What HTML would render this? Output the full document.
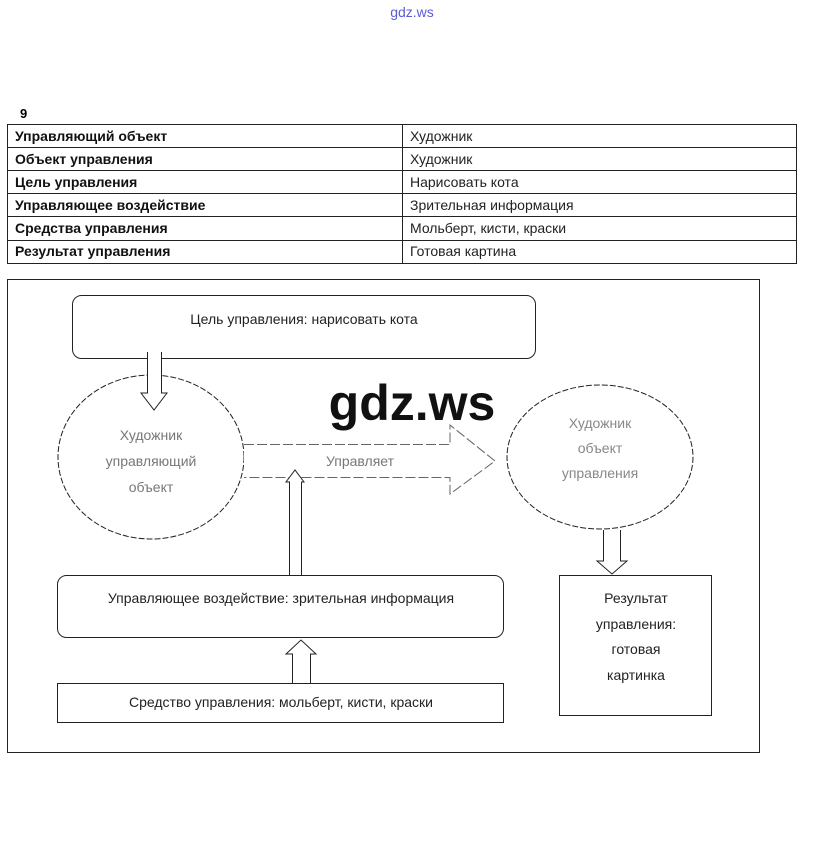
<!DOCTYPE html>
<html><head><meta charset="utf-8"><style>
body{margin:0;background:#fff;width:825px;height:863px;overflow:hidden}
svg text{font-family:"Liberation Sans","DejaVu Sans",sans-serif}
</style></head><body>
<svg width="825" height="863" viewBox="0 0 825 863" xmlns="http://www.w3.org/2000/svg">
<text x="412" y="17" font-size="14" fill="#5b5bd6" text-anchor="middle">gdz.ws</text>
<text x="20" y="118" font-size="13" font-weight="bold">9</text>
<g stroke="#222" stroke-width="1" fill="none">
<rect x="7.5" y="124.5" width="789" height="139"/>
<line x1="402.5" y1="124" x2="402.5" y2="263"/>
<line x1="7" y1="147.5" x2="797" y2="147.5"/>
<line x1="7" y1="170.5" x2="797" y2="170.5"/>
<line x1="7" y1="193.5" x2="797" y2="193.5"/>
<line x1="7" y1="216.5" x2="797" y2="216.5"/>
<line x1="7" y1="240.5" x2="797" y2="240.5"/>
</g>
<g font-size="14" font-weight="bold" fill="#111">
<text x="15" y="141">Управляющий объект</text>
<text x="15" y="164">Объект управления</text>
<text x="15" y="187">Цель управления</text>
<text x="15" y="210">Управляющее воздействие</text>
<text x="15" y="233">Средства управления</text>
<text x="15" y="256">Результат управления</text>
</g>
<g font-size="14" fill="#222">
<text x="410" y="141">Художник</text>
<text x="410" y="164">Художник</text>
<text x="410" y="187">Нарисовать кота</text>
<text x="410" y="210">Зрительная информация</text>
<text x="410" y="233">Мольберт, кисти, краски</text>
<text x="410" y="256">Готовая картина</text>
</g>
<g stroke="#222" stroke-width="1" fill="#fff">
<rect x="7.5" y="279.5" width="752" height="473" fill="none"/>
<rect x="72.5" y="295.5" width="463" height="63" rx="9"/>
<ellipse cx="151" cy="457" rx="93" ry="82" stroke-dasharray="6 2"/>
<path d="M147.5 352 V393 H141 L154 410 L167 393 H161.5 V352"/>
<path d="M244 444.5 H450 V425 L495 461 L450 494 V477.5 H244" stroke-dasharray="10 3" stroke="#666"/>
<ellipse cx="600" cy="457" rx="93" ry="72" stroke-dasharray="6 2"/>
<path d="M289.5 575 V482 H286 L295 470 L304 482 H301.5 V575"/>
<rect x="57.5" y="575.5" width="446" height="62" rx="9"/>
<path d="M292.5 683 V654 H286 L301 640 L316 654 H310.5 V683"/>
<rect x="57.5" y="683.5" width="446" height="39"/>
<path d="M603.5 530 V561 H597 L612 574 L627 561 H620.5 V530"/>
<rect x="559.5" y="575.5" width="152" height="140"/>
</g>
<g font-size="14" fill="#222" text-anchor="middle">
<text x="304" y="324">Цель управления: нарисовать кота</text>
<text x="151" y="440" fill="#777">Художник</text>
<text x="151" y="466" fill="#777">управляющий</text>
<text x="151" y="492" fill="#777">объект</text>
<text x="360" y="466" fill="#777">Управляет</text>
<text x="600" y="428" fill="#888">Художник</text>
<text x="600" y="453" fill="#888">объект</text>
<text x="600" y="478" fill="#888">управления</text>
<text x="281" y="603">Управляющее воздействие: зрительная информация</text>
<text x="281" y="707">Средство управления: мольберт, кисти, краски</text>
<text x="636" y="603">Результат</text>
<text x="636" y="629">управления:</text>
<text x="636" y="654">готовая</text>
<text x="636" y="680">картинка</text>
</g>
<text x="412" y="420" font-size="50" font-weight="bold" text-anchor="middle" fill="#111">gdz.ws</text>
</svg>
</body></html>
